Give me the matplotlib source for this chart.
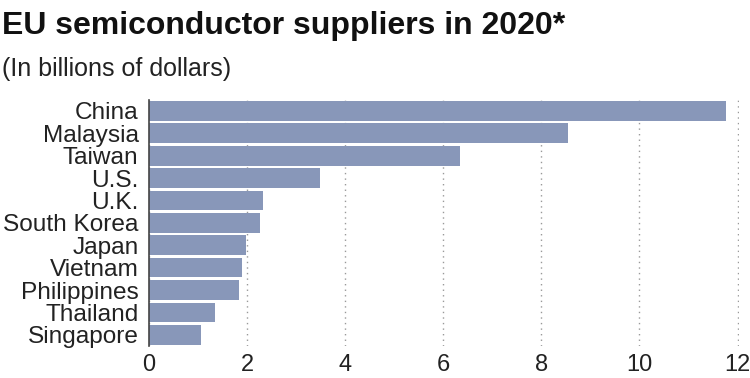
import matplotlib.pyplot as plt

# supplier countries and their value (billions of dollars)
countries = ["China", "Malaysia", "Taiwan", "U.S.", "U.K.", "South Korea",
             "Japan", "Vietnam", "Philippines", "Thailand", "Singapore"]
values = [11.77, 8.54, 6.35, 3.48, 2.33, 2.26, 1.97, 1.89, 1.83, 1.34, 1.06]
xticks = [0, 2, 4, 6, 8, 10, 12]

plt.rcParams['font.family'] = ['Liberation Sans', 'DejaVu Sans']

fig = plt.figure(figsize=(7.5, 3.78), dpi=100)
ax = fig.add_axes([0.1987, 0.0847, 0.7867, 0.6516])

ax.barh(range(len(countries)), values, height=0.88, color='#8897b9', zorder=2)
ax.set_ylim(len(countries) - 0.5, -0.5)
ax.set_xlim(0, 12.03)

ax.set_yticks(range(len(countries)))
ax.set_yticklabels(countries, fontsize=17.6, color='#222222')
ax.set_xticks(xticks)
ax.set_xticklabels([str(t) for t in xticks], fontsize=17, color='#222222')
ax.tick_params(axis='both', length=0)
ax.tick_params(axis='y', pad=7.5)
ax.tick_params(axis='x', pad=6)

ax.grid(axis='x', linestyle=(0, (1, 3)), color='#999999', linewidth=1, zorder=1)
for s in ['top', 'right', 'bottom']:
    ax.spines[s].set_visible(False)
ax.spines['left'].set_color('#444444')
ax.spines['left'].set_linewidth(1.2)
ax.spines['left'].set_zorder(3)

fig.text(0.003, 0.972, "EU semiconductor suppliers in 2020*", fontsize=23,
         fontweight='bold', va='top', ha='left', color='#111111')
fig.text(0.003, 0.848, "(In billions of dollars)", fontsize=18,
         va='top', ha='left', color='#222222')

fig.savefig('out.png', dpi=100)
